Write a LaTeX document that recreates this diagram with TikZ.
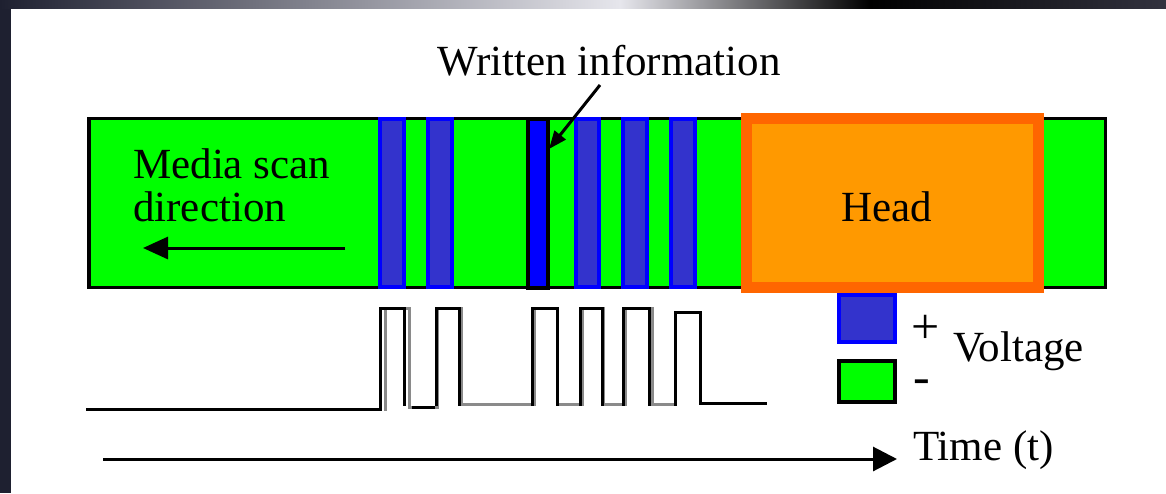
\documentclass[tikz,border=0pt]{standalone}
\usepackage{fontspec}
\setmainfont{Liberation Serif}
\usetikzlibrary{arrows.meta}
\definecolor{stripgreen}{HTML}{00FF00}
\definecolor{barblue}{HTML}{0000FF}
\definecolor{barfill}{HTML}{3333CC}
\definecolor{headedge}{HTML}{FF6600}
\definecolor{headfill}{HTML}{FF9900}
\definecolor{framedark}{HTML}{1E2030}
\definecolor{framelight}{HTML}{E6E6EC}
\definecolor{shadowgray}{HTML}{8A8A8A}
\begin{document}
\begin{tikzpicture}[x=1pt,y=-1pt,
  lbl/.style={inner sep=0pt, anchor=base west, font=\fontsize{43}{43}\selectfont},
  signlbl/.style={lbl, font=\fontsize{50}{50}\selectfont},
  stripbox/.style={draw=black, fill=stripgreen, line width=3.5pt},
  bitbar/.style={draw=barblue, fill=barfill, line width=4pt},
  writtenbar/.style={draw=black, fill=barblue, line width=4pt},
  headbox/.style={draw=headedge, fill=headfill, line width=11pt},
  wave/.style={line width=3pt, line join=miter, line cap=rect},
  shadowwave/.style={wave, draw=shadowgray},
  conn/.style={line width=3pt}]
% canvas and frame
\useasboundingbox (0,0) rectangle (1166,493);
\fill[white] (0,0) rectangle (1166,493);
\fill[framedark] (0,0) rectangle (11,493);
\shade[left color=framedark, right color=framelight] (0,0) rectangle (620,8);
\shade[left color=framelight, right color=black] (620,0) rectangle (870,8);
\shade[left color=black, right color={rgb,255:red,50;green,50;blue,62}] (870,0) rectangle (1166,8);
% media strip
\draw[stripbox] (89,118.5) rectangle (1105.5,287.5);
% bits
\draw[bitbar] (380,119) rectangle (404,287);
\draw[bitbar] (428,119) rectangle (452,287);
\draw[writtenbar] (528,118.5) rectangle (548,287.5);
\draw[bitbar] (576,119) rectangle (599,287);
\draw[bitbar] (623,119) rectangle (647,287);
\draw[bitbar] (671,119) rectangle (695,287);
% head
\draw[headbox] (746.5,118.5) rectangle (1038.5,287.5);
\node[lbl] (headlabel) at (841,221) {Head};
% legend
\draw[bitbar] (839,295) rectangle (895,342);
\draw[draw=black, fill=stripgreen, line width=4pt] (839,361) rectangle (895,402);
\node[signlbl] (plus) at (911,343) {+};
\node[signlbl] (minus) at (913,393) {-};
\node[lbl] (voltage) at (953,361) {Voltage};
% texts
\node[lbl] (written) at (437,75) {Written information};
\node[lbl] (media1) at (133,178) {Media scan};
\node[lbl] (media2) at (133,221) {direction};
\node[lbl] (time) at (913,460) {Time (t)};
% connectors
\coordinate (wstart) at (600,85);
\coordinate (wtip) at (549,149);
\draw[conn, -{Triangle[length=18pt,width=14pt]}] (wstart) -- (wtip);
\coordinate (mstart) at (345,248);
\coordinate (mtip) at (143,248);
\draw[conn, -{Triangle[length=25pt,width=22pt]}] (mstart) -- (mtip);
\coordinate (tstart) at (103,459);
\coordinate (ttip) at (897,459);
\draw[conn, -{Triangle[length=24pt,width=24pt]}] (tstart) -- (ttip);
% waveform
\draw[shadowwave, xshift=5pt] (380,409) -- (380,308) -- (404,308) -- (404,407) -- (432,407) -- (432,308) -- (456,308) -- (456,404) -- (529,404) -- (529,308) -- (552,308) -- (552,404) -- (577,404) -- (577,308) -- (598,308) -- (598,404) -- (620,404) -- (620,308) -- (647,308) -- (647,404) -- (670,404) -- (670,312) -- (690,312);
\draw[wave] (87,409) -- (380,409) -- (380,308) -- (404,308) -- (404,404);
\draw[wave] (413,407) -- (433,407);
\draw[wave] (436,404) -- (436,308) -- (459,308) -- (459,404);
\draw[wave] (532,404) -- (532,308) -- (557,308) -- (557,404);
\draw[wave] (580,404) -- (580,308) -- (602,308) -- (602,404);
\draw[wave] (623,404) -- (623,308) -- (649,308) -- (649,404);
\draw[wave] (675,404) -- (675,312) -- (700,312) -- (700,403) -- (765,403);
\end{tikzpicture}
\end{document}
